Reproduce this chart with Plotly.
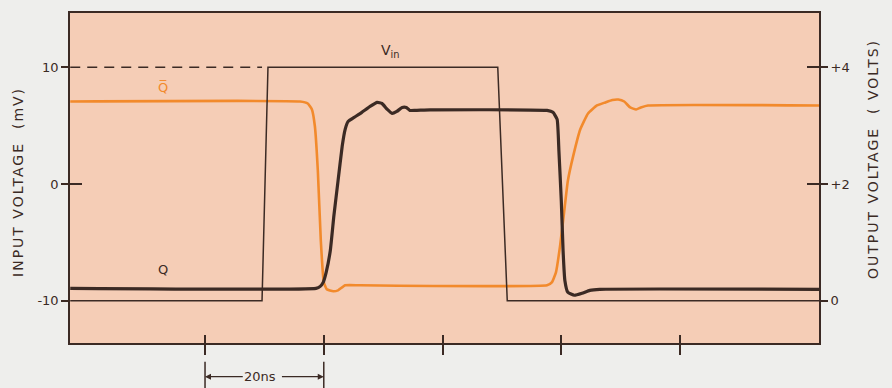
import plotly.graph_objects as go

# time in ns (0 = first bottom tick), voltages in mV on the input scale
# output scale: volts = (mV + 10) / 5
vin_t = [-22.7, 9.6, 10.6, 49.3, 50.9, 103.4]
vin_v = [-10, -10, 10, 10, -10, -10]

ref_t = [-22.7, 9.6]
ref_v = [10, 10]

qbar_t = [-22.7, 16.0, 17.3, 18.0, 18.5, 19.0, 19.5, 20.0, 20.5, 21.6, 22.4, 23.6, 26.1,
          57.6, 58.4, 59.1, 59.8, 60.5, 61.1, 62.0, 63.2, 64.5, 66.0, 67.4, 68.6, 69.6,
          70.6, 71.6, 72.6, 73.4, 74.6, 103.4]
qbar_v = [7.06, 7.06, 6.89, 6.38, 4.94, 1.11, -4.85, -8.43, -9.02, -9.19, -9.11, -8.68, -8.68,
          -8.68, -8.43, -7.57, -5.28, -2.30, 0.26, 2.38, 4.68, 6.04, 6.72, 6.98, 7.19, 7.23,
          7.06, 6.55, 6.38, 6.55, 6.72, 6.72]

q_t = [-22.7, 18.7, 19.4, 19.9, 20.4, 21.1, 21.7, 22.4, 23.1, 23.6, 24.1, 25.1, 26.4, 27.8,
       29.0, 29.8, 30.7, 31.5, 32.3, 33.2, 33.9, 34.5, 35.4, 37.9, 57.6, 58.6, 59.3, 59.6,
       60.0, 60.3, 60.6, 61.1, 62.2, 63.5, 64.8, 66.5, 103.4]
q_v = [-8.94, -8.94, -8.77, -8.43, -7.57, -5.70, -2.72, 0.26, 3.23, 4.68, 5.36, 5.70, 6.13, 6.64,
       6.98, 6.89, 6.38, 6.04, 6.21, 6.55, 6.55, 6.30, 6.30, 6.34, 6.30, 6.13, 5.53, 2.81,
       -1.45, -5.70, -8.26, -9.28, -9.53, -9.36, -9.11, -9.02, -9.02]

left_ticks = [-10, 0, 10]
left_labels = ["-10", "0", "10"]
right_ticks = [0, 2, 4]
right_labels = ["0", "+2", "+4"]
time_ticks = [0, 20, 40, 60, 80]

xr = [-22.74, 103.4]
yr = [-13.62, 14.64]
y2r = [(yr[0] + 10) / 5, (yr[1] + 10) / 5]

ink = "#3b2a24"
orange = "#f28a2c"
peach = "#f5cdb6"
paper = "#eeeeec"
font = "DejaVu Sans"

W, H = 892, 388
ML, MR, MT, MB = 70, 73, 11, 45
pw = W - ML - MR
ph = H - MT - MB

fig = go.Figure()
fig.add_trace(go.Scatter(x=ref_t, y=ref_v, mode="lines",
                         line=dict(color=ink, width=1.5, dash="10px,7px")))
fig.add_trace(go.Scatter(x=qbar_t, y=qbar_v, mode="lines",
                         line=dict(color=orange, width=2.6, shape="spline", smoothing=0.4)))
fig.add_trace(go.Scatter(x=q_t, y=q_v, mode="lines",
                         line=dict(color=ink, width=3.2, shape="spline", smoothing=0.4)))
fig.add_trace(go.Scatter(x=vin_t, y=vin_v, mode="lines",
                         line=dict(color=ink, width=1.5)))

# placeholders so the overlay axes (extra tick marks, right scale) get drawn
for xa, ya in [("x", "y2"), ("x", "y3"), ("x", "y4"), ("x2", "y")]:
    fig.add_trace(go.Scatter(x=[None], y=[None], xaxis=xa, yaxis=ya, mode="lines",
                             hoverinfo="skip"))

# curve labels
fig.add_annotation(x=31.3, y=11.4, text="V<sub>in</sub>", showarrow=False,
                   font=dict(family=font, size=14, color=ink))
fig.add_annotation(x=-7.1, y=8.3, text="Q\u0305", showarrow=False,
                   font=dict(family=font, size=13, color=orange))
fig.add_annotation(x=-7.1, y=-7.3, text="Q", showarrow=False,
                   font=dict(family=font, size=13, color=ink))

# axis titles
fig.add_annotation(x=(18 - ML) / pw, y=(H - MB - 181) / ph, xref="paper", yref="paper",
                   text='<span style="letter-spacing:2px">INPUT VOLTAGE  (mV)</span>',
                   showarrow=False, textangle=-90, xanchor="center", yanchor="middle",
                   font=dict(family=font, size=14, color=ink))
fig.add_annotation(x=(873 - ML) / pw, y=(H - MB - 158) / ph, xref="paper", yref="paper",
                   text='<span style="letter-spacing:2px">OUTPUT VOLTAGE  ( VOLTS)</span>',
                   showarrow=False, textangle=-90, xanchor="center", yanchor="middle",
                   font=dict(family=font, size=14, color=ink))

# 20 ns scale marker under the axis
fig.add_annotation(x=0, y=-0.102, xref="x", yref="paper", ax=9.3, ay=0,
                   axref="x", ayref="pixel", text="20ns", showarrow=True, standoff=0,
                   arrowhead=2, arrowsize=1, arrowwidth=1.2, arrowcolor=ink,
                   font=dict(family=font, size=13, color=ink))
fig.add_annotation(x=20, y=-0.102, xref="x", yref="paper", ax=12.7, ay=0,
                   axref="x", ayref="pixel", text="", showarrow=True,
                   arrowhead=2, arrowsize=1, arrowwidth=1.2, arrowcolor=ink)
for t in time_ticks[:2]:
    fig.add_shape(type="line", x0=t, x1=t, y0=-0.057, y1=-0.14, xref="x", yref="paper",
                  line=dict(color=ink, width=1.5))

fig.update_layout(
    width=W, height=H,
    margin=dict(l=ML, r=MR, t=MT, b=MB),
    paper_bgcolor=paper, plot_bgcolor=peach,
    showlegend=False,
    xaxis=dict(range=xr, tickvals=time_ticks, ticks="outside", ticklen=10, tickwidth=1.5,
               tickcolor=ink, showticklabels=False, showgrid=False, zeroline=False,
               showline=True, linecolor=ink, linewidth=1.5, mirror=True),
    xaxis2=dict(range=xr, overlaying="x", anchor="y", side="bottom", tickvals=time_ticks,
                ticks="inside", ticklen=8, tickwidth=1.5, tickcolor=ink,
                showticklabels=False, showgrid=False, zeroline=False, showline=False),
    yaxis=dict(range=yr, tickvals=left_ticks, ticktext=left_labels, ticks="outside",
               ticklen=7, tickwidth=1.5, tickcolor=ink, showgrid=False, zeroline=False,
               showline=True, linecolor=ink, linewidth=1.5, mirror=True,
               tickfont=dict(family=font, size=13, color=ink)),
    yaxis2=dict(range=y2r, overlaying="y", side="right", anchor="x", tickvals=right_ticks,
                ticktext=right_labels, ticks="outside", ticklen=8, tickwidth=1.5,
                tickcolor=ink, showgrid=False, zeroline=False, showline=False,
                tickfont=dict(family=font, size=13, color=ink)),
    yaxis3=dict(range=yr, overlaying="y", side="left", anchor="x", tickvals=[0],
                ticks="inside", ticklen=12, tickwidth=1.5, tickcolor=ink,
                showticklabels=False, showgrid=False, zeroline=False, showline=False),
    yaxis4=dict(range=y2r, overlaying="y", side="right", anchor="x", tickvals=[2, 4],
                ticks="inside", ticklen=12, tickwidth=1.5, tickcolor=ink,
                showticklabels=False, showgrid=False, zeroline=False, showline=False),
)

fig.write_html("out.html", config={"displayModeBar": False},
               post_script="document.body.style.margin='0';"
                           "document.body.style.background='#eeeeec';")
